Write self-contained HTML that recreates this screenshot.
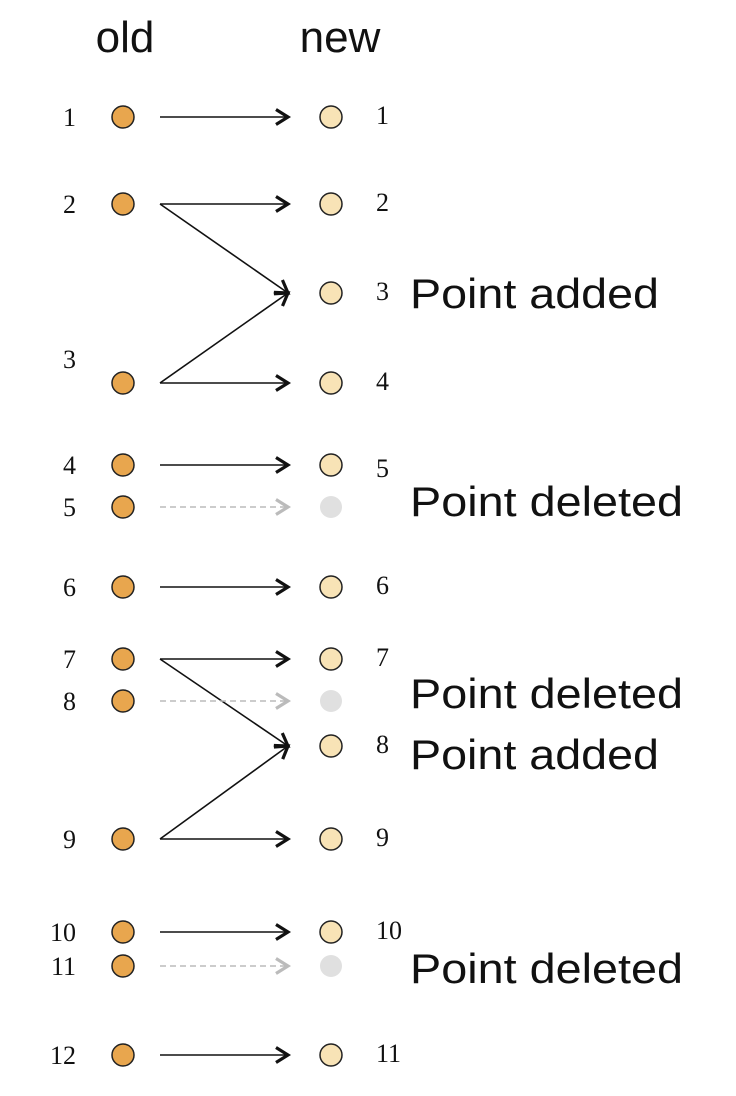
<!DOCTYPE html>
<html><head><meta charset="utf-8"><style>
body{margin:0;background:#fff}
svg{display:block}
.ser{font-family:"Liberation Serif",serif;font-size:26px;fill:#111}
.san{font-family:"Liberation Sans",sans-serif;font-size:42px;fill:#111}
.ttl{font-family:"Liberation Sans",sans-serif;font-size:44px;fill:#111}
</style></head><body>
<svg id="c" width="736" height="1096">
<defs>
<marker id="ah" markerWidth="18" markerHeight="20" refX="14" refY="9" orient="auto" markerUnits="userSpaceOnUse"><path d="M2,1.5 L14,9 L2,16.5" fill="none" stroke="#111" stroke-width="3.2"/></marker>
<marker id="ahg" markerWidth="18" markerHeight="20" refX="14" refY="9" orient="auto" markerUnits="userSpaceOnUse"><path d="M2,1.5 L14,9 L2,16.5" fill="none" stroke="#bbb" stroke-width="3.2"/></marker>
</defs>
<text class="ttl" x="125" y="52" text-anchor="middle">old</text>
<text class="ttl" x="340" y="52" text-anchor="middle">new</text>
</svg>
<script>
const oldLabels=["1","2","3","4","5","6","7","8","9","10","11","12"];
const oldY=[117,204,383,465,507,587,659,701,839,932,966,1055];
const newLabels=["1","2","3","4","5","","6","7","","8","9","10","","11"];
const newY=[117,204,293,383,465,507,587,659,701,746,839,932,966,1055];
const newDeleted=[0,0,0,0,0,1,0,0,1,0,0,0,1,0];
const links=[[0,0],[1,1],[1,2],[2,2],[2,3],[3,4],[4,5],[5,6],[6,7],[6,9],[7,8],[8,9],[8,10],[9,11],[10,12],[11,13]];
const notes=[["Point added",293],["Point deleted",501],["Point deleted",693],["Point added",754],["Point deleted",968]];
const svg=document.getElementById('c');
const NS="http://www.w3.org/2000/svg";
function mk(t,a){const e=document.createElementNS(NS,t);for(const k in a)e.setAttribute(k,a[k]);svg.appendChild(e);return e;}
links.forEach(([o,n])=>{
  const del=newDeleted[n];
  const l=mk('line',{x1:160,y1:oldY[o],x2:288,y2:newY[n],stroke:del?'#bbb':'#111','stroke-width':del?1.5:1.6,'stroke-dasharray':del?'6,4':'none','marker-end':del?'url(#ahg)':'url(#ah)'});
  
  
});
oldY.forEach((y,i)=>{
  const c=mk('circle',{cx:123,cy:y,r:11,fill:'#e8a64e',stroke:'#222','stroke-width':1.5});
  
  
  const ty=(i===2)?y-24:y;
  const t=mk('text',{x:76,y:ty+9,'text-anchor':'end','class':'ser'});t.textContent=oldLabels[i];
  
  
});
newY.forEach((y,i)=>{
  const del=newDeleted[i];
  const c=mk('circle',{cx:331,cy:y,r:11,fill:del?'#e0e0e0':'#f8e3b6',stroke:del?'none':'#222','stroke-width':1.5});
  
  
  if(!del){
    const t=mk('text',{x:376,y:y+7+(i===4?5:0),'class':'ser'});t.textContent=newLabels[i];
    
    
  }
});
notes.forEach(([s,y])=>{
  const w=s==="Point added"?249:273;
  const t=mk('text',{x:410,y:y+15,'class':'san',textLength:w,lengthAdjust:'spacingAndGlyphs'});t.textContent=s;
  
  
});
</script>
</body></html>
